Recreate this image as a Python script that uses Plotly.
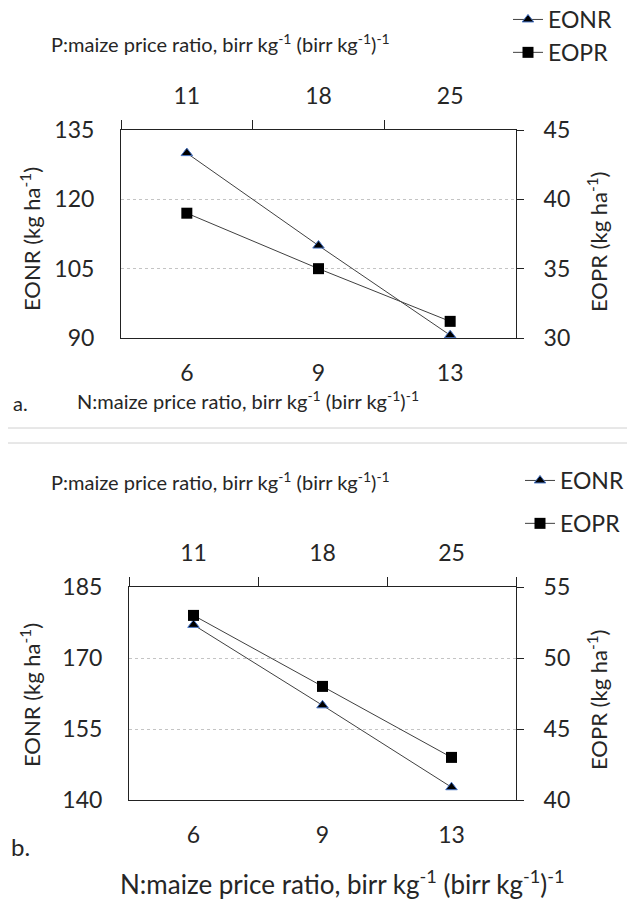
import plotly.graph_objects as go

# ---- data ----
n_ratio = ["6", "9", "13"]          # N:maize price ratio (bottom axis)
p_ratio = ["11", "18", "25"]        # P:maize price ratio (top axis)

eonr_a = [130, 110, 90.6]
eopr_a = [39, 35, 31.2]
eonr_b = [177, 160, 142.7]
eopr_b = [53, 48, 43]

FONT = "Lato"
TXT = "#262626"
FS_TICK = 23
FS_TITLE = 20
FS_YT = 22
FS_LEG = 23
W, H = 627, 900

tri = dict(symbol="triangle-up", size=10, color="black", line=dict(color="#4472C4", width=1))
sq = dict(symbol="square", size=11, color="black", line=dict(color="black", width=0))
ln = dict(color="#404040", width=1)

fig = go.Figure()
fig.add_trace(go.Scatter(x=n_ratio, y=eonr_a, xaxis="x", yaxis="y", name="EONR",
                         mode="lines+markers", marker=tri, line=ln, legend="legend"))
fig.add_trace(go.Scatter(x=p_ratio, y=eopr_a, xaxis="x2", yaxis="y2", name="EOPR",
                         mode="lines+markers", marker=sq, line=ln, legend="legend"))
fig.add_trace(go.Scatter(x=n_ratio, y=eonr_b, xaxis="x3", yaxis="y3", name="EONR",
                         mode="lines+markers", marker=tri, line=ln, legend="legend2",
                         legendgroup="g1"))
fig.add_trace(go.Scatter(x=p_ratio, y=eopr_b, xaxis="x4", yaxis="y4", name="EOPR",
                         mode="lines+markers", marker=sq, line=ln, legend="legend2",
                         legendgroup="g2"))

def px(v):
    return v / W

def py(v):
    return 1 - v / H

tickfont = dict(family=FONT, size=FS_TICK, color=TXT)
AX = "#222222"
CAT_RANGE = [-0.5, 2.5]

def bottom_x(dom, anchor):
    return dict(domain=dom, anchor=anchor, type="category", side="bottom", range=CAT_RANGE,
                showline=True, linecolor=AX, linewidth=1, ticks="", showgrid=False,
                tickfont=tickfont, ticklabelstandoff=14, automargin=False, zeroline=False)

def top_x(dom, anchor, over):
    return dict(domain=dom, anchor=anchor, overlaying=over, type="category", side="top",
                range=CAT_RANGE,
                showline=True, linecolor=AX, linewidth=1, ticks="outside", ticklen=9,
                tickcolor=AX, tickson="boundaries", showgrid=False, automargin=False,
                tickfont=tickfont, ticklabelstandoff=16, zeroline=False)

def left_y(dom, anchor, rng, dt):
    return dict(domain=dom, anchor=anchor, range=rng, dtick=dt, tick0=rng[0],
                showline=True, linecolor=AX, linewidth=1, ticks="", automargin=False,
                showgrid=True, gridcolor="#c4c4c4", griddash="dot", gridwidth=1,
                tickfont=tickfont, ticklabelstandoff=21, zeroline=False)

def right_y(dom, anchor, over, rng, dt):
    return dict(domain=dom, anchor=anchor, overlaying=over, side="right", range=rng,
                dtick=dt, tick0=rng[0], showline=True, linecolor=AX, linewidth=1,
                ticks="outside", ticklen=7, tickcolor=AX, showgrid=False, automargin=False,
                tickfont=tickfont, ticklabelstandoff=15, zeroline=False)

xa = [px(121), px(516)]
ya = [py(338), py(130)]
xb = [px(129), px(516)]
yb = [py(800), py(587)]

legfont = dict(family=FONT, size=FS_LEG, color=TXT)
fig.update_layout(
    width=W, height=H,
    margin=dict(l=0, r=0, t=0, b=0, autoexpand=False),
    paper_bgcolor="white", plot_bgcolor="white",
    font=dict(family=FONT, size=FS_TITLE, color=TXT),
    xaxis=bottom_x(xa, "y"),
    yaxis=left_y(ya, "x", [90, 135], 15),
    xaxis2=top_x(xa, "y", "x"),
    yaxis2=right_y(ya, "x2", "y", [30, 45], 5),
    xaxis3=bottom_x(xb, "y3"),
    yaxis3=left_y(yb, "x3", [140, 185], 15),
    xaxis4=top_x(xb, "y3", "x3"),
    yaxis4=right_y(yb, "x4", "y3", [40, 55], 5),
    legend=dict(x=px(508), y=py(-2), xanchor="left", yanchor="top",
                font=legfont, bgcolor="rgba(0,0,0,0)",
                itemwidth=30, tracegroupgap=0),
    legend2=dict(x=px(520), y=py(459), xanchor="left", yanchor="top",
                 font=legfont, bgcolor="rgba(0,0,0,0)",
                 itemwidth=30, tracegroupgap=10),
    showlegend=True,
)

top_title = "P:maize price ratio, birr kg<sup>-1</sup> (birr kg<sup>-1</sup>)<sup>-1</sup>"
bot_title = "N:maize price ratio, birr kg<sup>-1</sup> (birr kg<sup>-1</sup>)<sup>-1</sup>"
ann = [
    (220, 43, top_title, 0, FS_TITLE),
    (248, 400, bot_title, 0, FS_TITLE),
    (20, 403, "a.", 0, FS_TITLE),
    (220, 481, top_title, 0, FS_TITLE),
    (342, 882, bot_title, 0, 26),
    (20, 846, "b.", 0, 24),
    (30, 239, "EONR (kg ha<sup>-1</sup>)", -90, FS_YT),
    (597, 242, "EOPR (kg ha<sup>-1</sup>)", -90, FS_YT),
    (30, 695, "EONR (kg ha<sup>-1</sup>)", -90, FS_YT),
    (597, 700, "EOPR (kg ha<sup>-1</sup>)", -90, FS_YT),
]
for x, y, t, ang, fs in ann:
    fig.add_annotation(x=px(x), y=py(y), xref="paper", yref="paper", text=t,
                       showarrow=False, textangle=ang, xanchor="center", yanchor="middle",
                       font=dict(family=FONT, size=fs, color=TXT))

for yy in (428, 443):
    fig.add_shape(type="line", xref="paper", yref="paper", x0=px(8), x1=1,
                  y0=py(yy), y1=py(yy), line=dict(color="#d0d0d0", width=1))

fig.write_html("out.html")
